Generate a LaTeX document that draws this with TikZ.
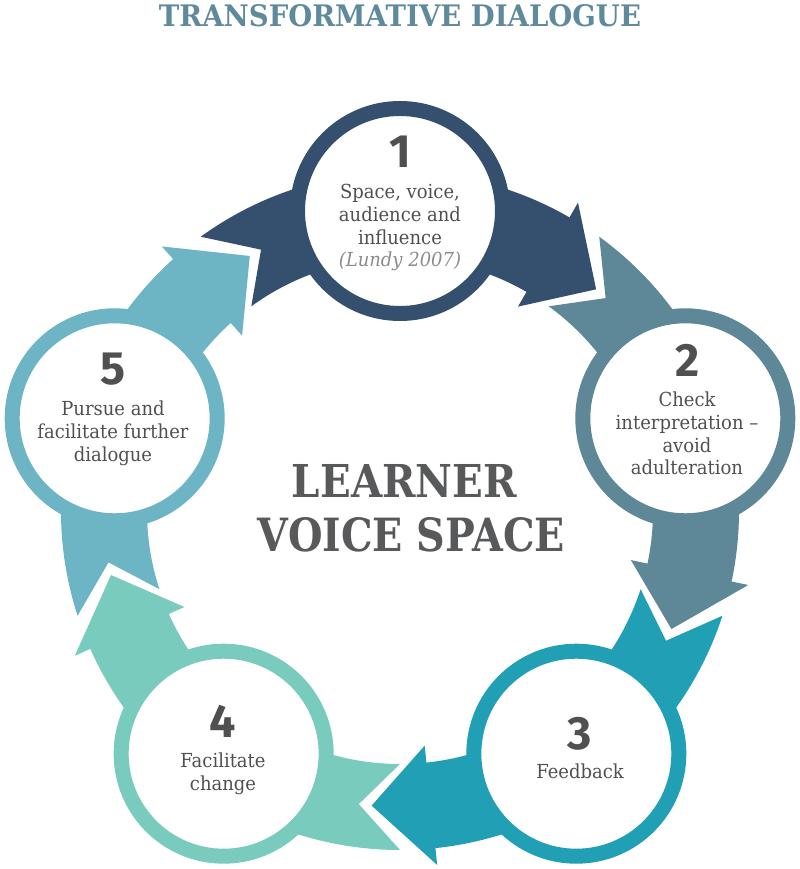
\documentclass[tikz,border=0pt]{standalone}
\usepackage{fontspec}
\usepackage{graphicx}
\setmainfont{DejaVu Serif}[FakeStretch=0.93]
\newfontfamily\numfont{Fira Sans}
\definecolor{cNavy}{HTML}{354F6F}
\definecolor{cSteel}{HTML}{5E8798}
\definecolor{cTeal}{HTML}{209FB5}
\definecolor{cMint}{HTML}{79CBBD}
\definecolor{cLight}{HTML}{6DB5C4}
\definecolor{cTitle}{HTML}{5F8A9B}
\definecolor{cText}{HTML}{505050}
\definecolor{cCenter}{HTML}{58595B}
\definecolor{cCite}{HTML}{8C8C8C}
\newcommand\cyclearrow[2]{%
  \pgfmathsetmacro\aTail{#1+36}%
  \pgfmathsetmacro\aNotch{#1+28}%
  \pgfmathsetmacro\aBase{#1-30}%
  \pgfmathsetmacro\aTip{#1-41.5}%
  \fill[#2] (\aTail:339) -- (\aNotch:296) -- (\aTail:253)
    arc[start angle=\aTail, end angle=\aBase, radius=253]
    -- (\aBase:236) -- (\aTip:296) -- (\aBase:356) -- (\aBase:339)
    arc[start angle=\aBase, end angle=\aTail, radius=339] -- cycle;}
\tikzset{
  ring/.style={circle, draw=#1, fill=white, line width=11.25pt, minimum size=153.75pt, inner sep=0pt},
  num/.style={font=\numfont\bfseries\fontsize{35}{35}\selectfont, text=cText, inner sep=0pt, anchor=base},
  body/.style={font=\fontsize{14.5}{16.9}\selectfont, text=cText, inner sep=0pt, anchor=base},
  headline/.style={inner sep=0pt, anchor=south}
}
\begin{document}
\begin{tikzpicture}[x=0.75pt,y=0.75pt]
\fill[white] (0,0) rectangle (800,869);
\useasboundingbox (0,0) rectangle (800,869);
\begin{scope}[shift={(400,358)}]
  \cyclearrow{90}{cNavy}
  \cyclearrow{18}{cSteel}
  \cyclearrow{-54}{cTeal}
  \cyclearrow{-126}{cMint}
  \cyclearrow{162}{cLight}
  \node[ring=cNavy] (c1) at (90:300) {};
  \node[ring=cSteel] (c2) at (18:300) {};
  \node[ring=cTeal] (c3) at (-54:300) {};
  \node[ring=cMint] (c4) at (-126:300) {};
  \node[ring=cLight] (c5) at (162:300) {};
\end{scope}
\node[headline, text=cTitle] (title) at (400,842) {\resizebox{361.5pt}{16.5pt}{\bfseries TRANSFORMATIVE DIALOGUE}};
\node[headline, text=cCenter] (lv1) at (404.5,371) {\resizebox{168.75pt}{24.75pt}{\bfseries LEARNER}};
\node[headline, text=cCenter] (lv2) at (411.5,317) {\resizebox{230.25pt}{25.5pt}{\bfseries VOICE SPACE}};
\node[num] (n1) at (400,701) {1};
\node[num] (n2) at (688,492) {2};
\node[num] (n3) at (580,119) {3};
\node[num] (n4) at (223,131) {4};
\node[num] (n5) at (113,484) {5};
\node[body] (t1) at (400,670) {\begin{tabular}[t]{@{}c@{}}Space, voice,\\audience and\\influence\\{\itshape\color{cCite}(Lundy 2007)}\end{tabular}};
\node[body] (t2) at (687,462) {\begin{tabular}[t]{@{}c@{}}Check\\interpretation –\\avoid\\adulteration\end{tabular}};
\node[body] (t3) at (580,90) {\begin{tabular}[t]{@{}c@{}}Feedback\end{tabular}};
\node[body] (t4) at (223,101) {\begin{tabular}[t]{@{}c@{}}Facilitate\\change\end{tabular}};
\node[body] (t5) at (113,453) {\begin{tabular}[t]{@{}c@{}}Pursue and\\facilitate further\\dialogue\end{tabular}};
\end{tikzpicture}
\end{document}
